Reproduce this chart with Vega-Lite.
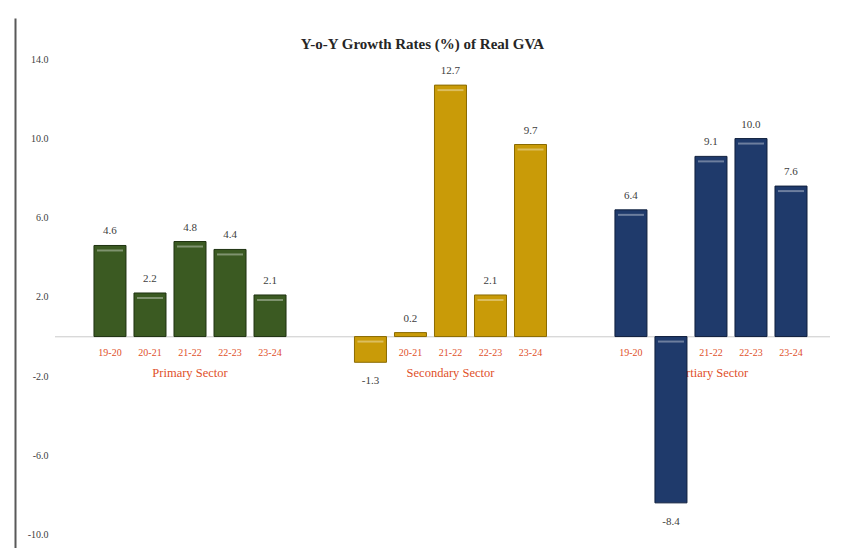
{
  "$schema": "https://vega.github.io/schema/vega-lite/v6.json",
  "width": 775,
  "height": 530,
  "autosize": {"type": "none"},
  "padding": {"left": 55, "top": 18, "right": 15, "bottom": 0},
  "background": "white",
  "title": {
    "text": "Y-o-Y Growth Rates (%) of Real GVA",
    "font": "Liberation Serif",
    "fontSize": 15,
    "fontWeight": "bold",
    "color": "#262626",
    "anchor": "middle",
    "offset": -34,
    "dx": -20
  },
  "config": {
    "view": {"stroke": null},
    "font": "Liberation Serif",
    "locale": {"number": {"decimal": ".", "thousands": ",", "grouping": [3], "currency": ["$", ""], "minus": "-"}}
  },
  "data": {
    "values": [
      {"sector": "Primary Sector", "year": "19-20", "value": 4.6},
      {"sector": "Primary Sector", "year": "20-21", "value": 2.2},
      {"sector": "Primary Sector", "year": "21-22", "value": 4.8},
      {"sector": "Primary Sector", "year": "22-23", "value": 4.4},
      {"sector": "Primary Sector", "year": "23-24", "value": 2.1},
      {"sector": "Secondary Sector", "year": "19-20", "value": -1.3},
      {"sector": "Secondary Sector", "year": "20-21", "value": 0.2},
      {"sector": "Secondary Sector", "year": "21-22", "value": 12.7},
      {"sector": "Secondary Sector", "year": "22-23", "value": 2.1},
      {"sector": "Secondary Sector", "year": "23-24", "value": 9.7},
      {"sector": "Tertiary Sector", "year": "19-20", "value": 6.4},
      {"sector": "Tertiary Sector", "year": "20-21", "value": -8.4},
      {"sector": "Tertiary Sector", "year": "21-22", "value": 9.1},
      {"sector": "Tertiary Sector", "year": "22-23", "value": 10.0},
      {"sector": "Tertiary Sector", "year": "23-24", "value": 7.6}
    ]
  },
  "encoding": {
    "y": {
      "field": "value",
      "type": "quantitative",
      "scale": {"domain": [-10.68, 16.09], "nice": false, "zero": false},
      "axis": {
        "values": [-10, -6, -2, 2, 6, 10, 14],
        "format": ".1f",
        "title": null,
        "grid": false,
        "ticks": false,
        "tickSize": 0,
        "domain": true,
        "domainColor": "#595959",
        "domainWidth": 2,
        "offset": 40,
        "labelPadding": -33,
        "labelAlign": "right",
        "labelFontSize": 10,
        "labelColor": "#404040",
        "labelFont": "Liberation Serif"
      }
    }
  },
  "layer": [
    {
      "mark": {"type": "rule", "color": "#d9d9d9", "strokeWidth": 1},
      "encoding": {"y": {"datum": 0, "type": "quantitative"}}
    },
    {
      "mark": {"type": "text", "baseline": "middle", "dy": 16.5, "fontSize": 10, "color": "#e0502a"},
      "encoding": {
        "x": {
          "field": "sector",
          "type": "nominal",
          "sort": null,
          "scale": {"paddingInner": 0.232, "paddingOuter": 0.1036, "align": 0.648},
          "axis": {
            "orient": "bottom",
            "offset": -176,
            "domain": false,
            "ticks": false,
            "tickSize": 0,
            "labelPadding": 0,
            "labelBaseline": "middle",
            "labelAngle": 0,
            "labelColor": "#e0502a",
            "labelFontSize": 12.5,
            "labelFont": "Liberation Serif",
            "title": null
          }
        },
        "xOffset": {"field": "year", "type": "nominal", "sort": null, "scale": {"paddingInner": 0.2, "paddingOuter": 0.1}},
        "y": {"datum": 0, "type": "quantitative"},
        "text": {"field": "year"}
      }
    },
    {
      "mark": {"type": "bar", "strokeWidth": 1},
      "encoding": {
        "x": {"field": "sector", "type": "nominal", "sort": null},
        "xOffset": {"field": "year", "type": "nominal", "sort": null},
        "color": {
          "field": "sector",
          "type": "nominal",
          "legend": null,
          "scale": {"domain": ["Primary Sector", "Secondary Sector", "Tertiary Sector"], "range": ["#3b5a22", "#c99b08", "#1f3a6b"]}
        },
        "stroke": {
          "field": "sector",
          "type": "nominal",
          "legend": null,
          "scale": {"domain": ["Primary Sector", "Secondary Sector", "Tertiary Sector"], "range": ["#1e3210", "#8a6a00", "#0f1f3d"]}
        }
      }
    },
    {
      "transform": [{"filter": "datum.value >= 0.5"}],
      "mark": {"type": "tick", "color": "white", "opacity": 0.35, "thickness": 2, "size": 26, "yOffset": 5},
      "encoding": {
        "x": {"field": "sector", "type": "nominal", "sort": null},
        "xOffset": {"field": "year", "type": "nominal", "sort": null}
      }
    },
    {
      "transform": [{"filter": "datum.value < 0"}],
      "mark": {"type": "tick", "color": "white", "opacity": 0.35, "thickness": 2, "size": 26, "yOffset": 5},
      "encoding": {
        "x": {"field": "sector", "type": "nominal", "sort": null},
        "xOffset": {"field": "year", "type": "nominal", "sort": null},
        "y": {"datum": 0, "type": "quantitative"}
      }
    },
    {
      "transform": [{"filter": "datum.value >= 0"}],
      "mark": {"type": "text", "baseline": "middle", "dy": -14, "fontSize": 11, "color": "#404040"},
      "encoding": {
        "x": {"field": "sector", "type": "nominal", "sort": null},
        "xOffset": {"field": "year", "type": "nominal", "sort": null},
        "text": {"field": "value", "type": "quantitative", "format": ".1f"}
      }
    },
    {
      "transform": [{"filter": "datum.value < 0"}],
      "mark": {"type": "text", "baseline": "middle", "dy": 19, "fontSize": 11, "color": "#404040"},
      "encoding": {
        "x": {"field": "sector", "type": "nominal", "sort": null},
        "xOffset": {"field": "year", "type": "nominal", "sort": null},
        "text": {"field": "value", "type": "quantitative", "format": ".1f"}
      }
    }
  ]
}
